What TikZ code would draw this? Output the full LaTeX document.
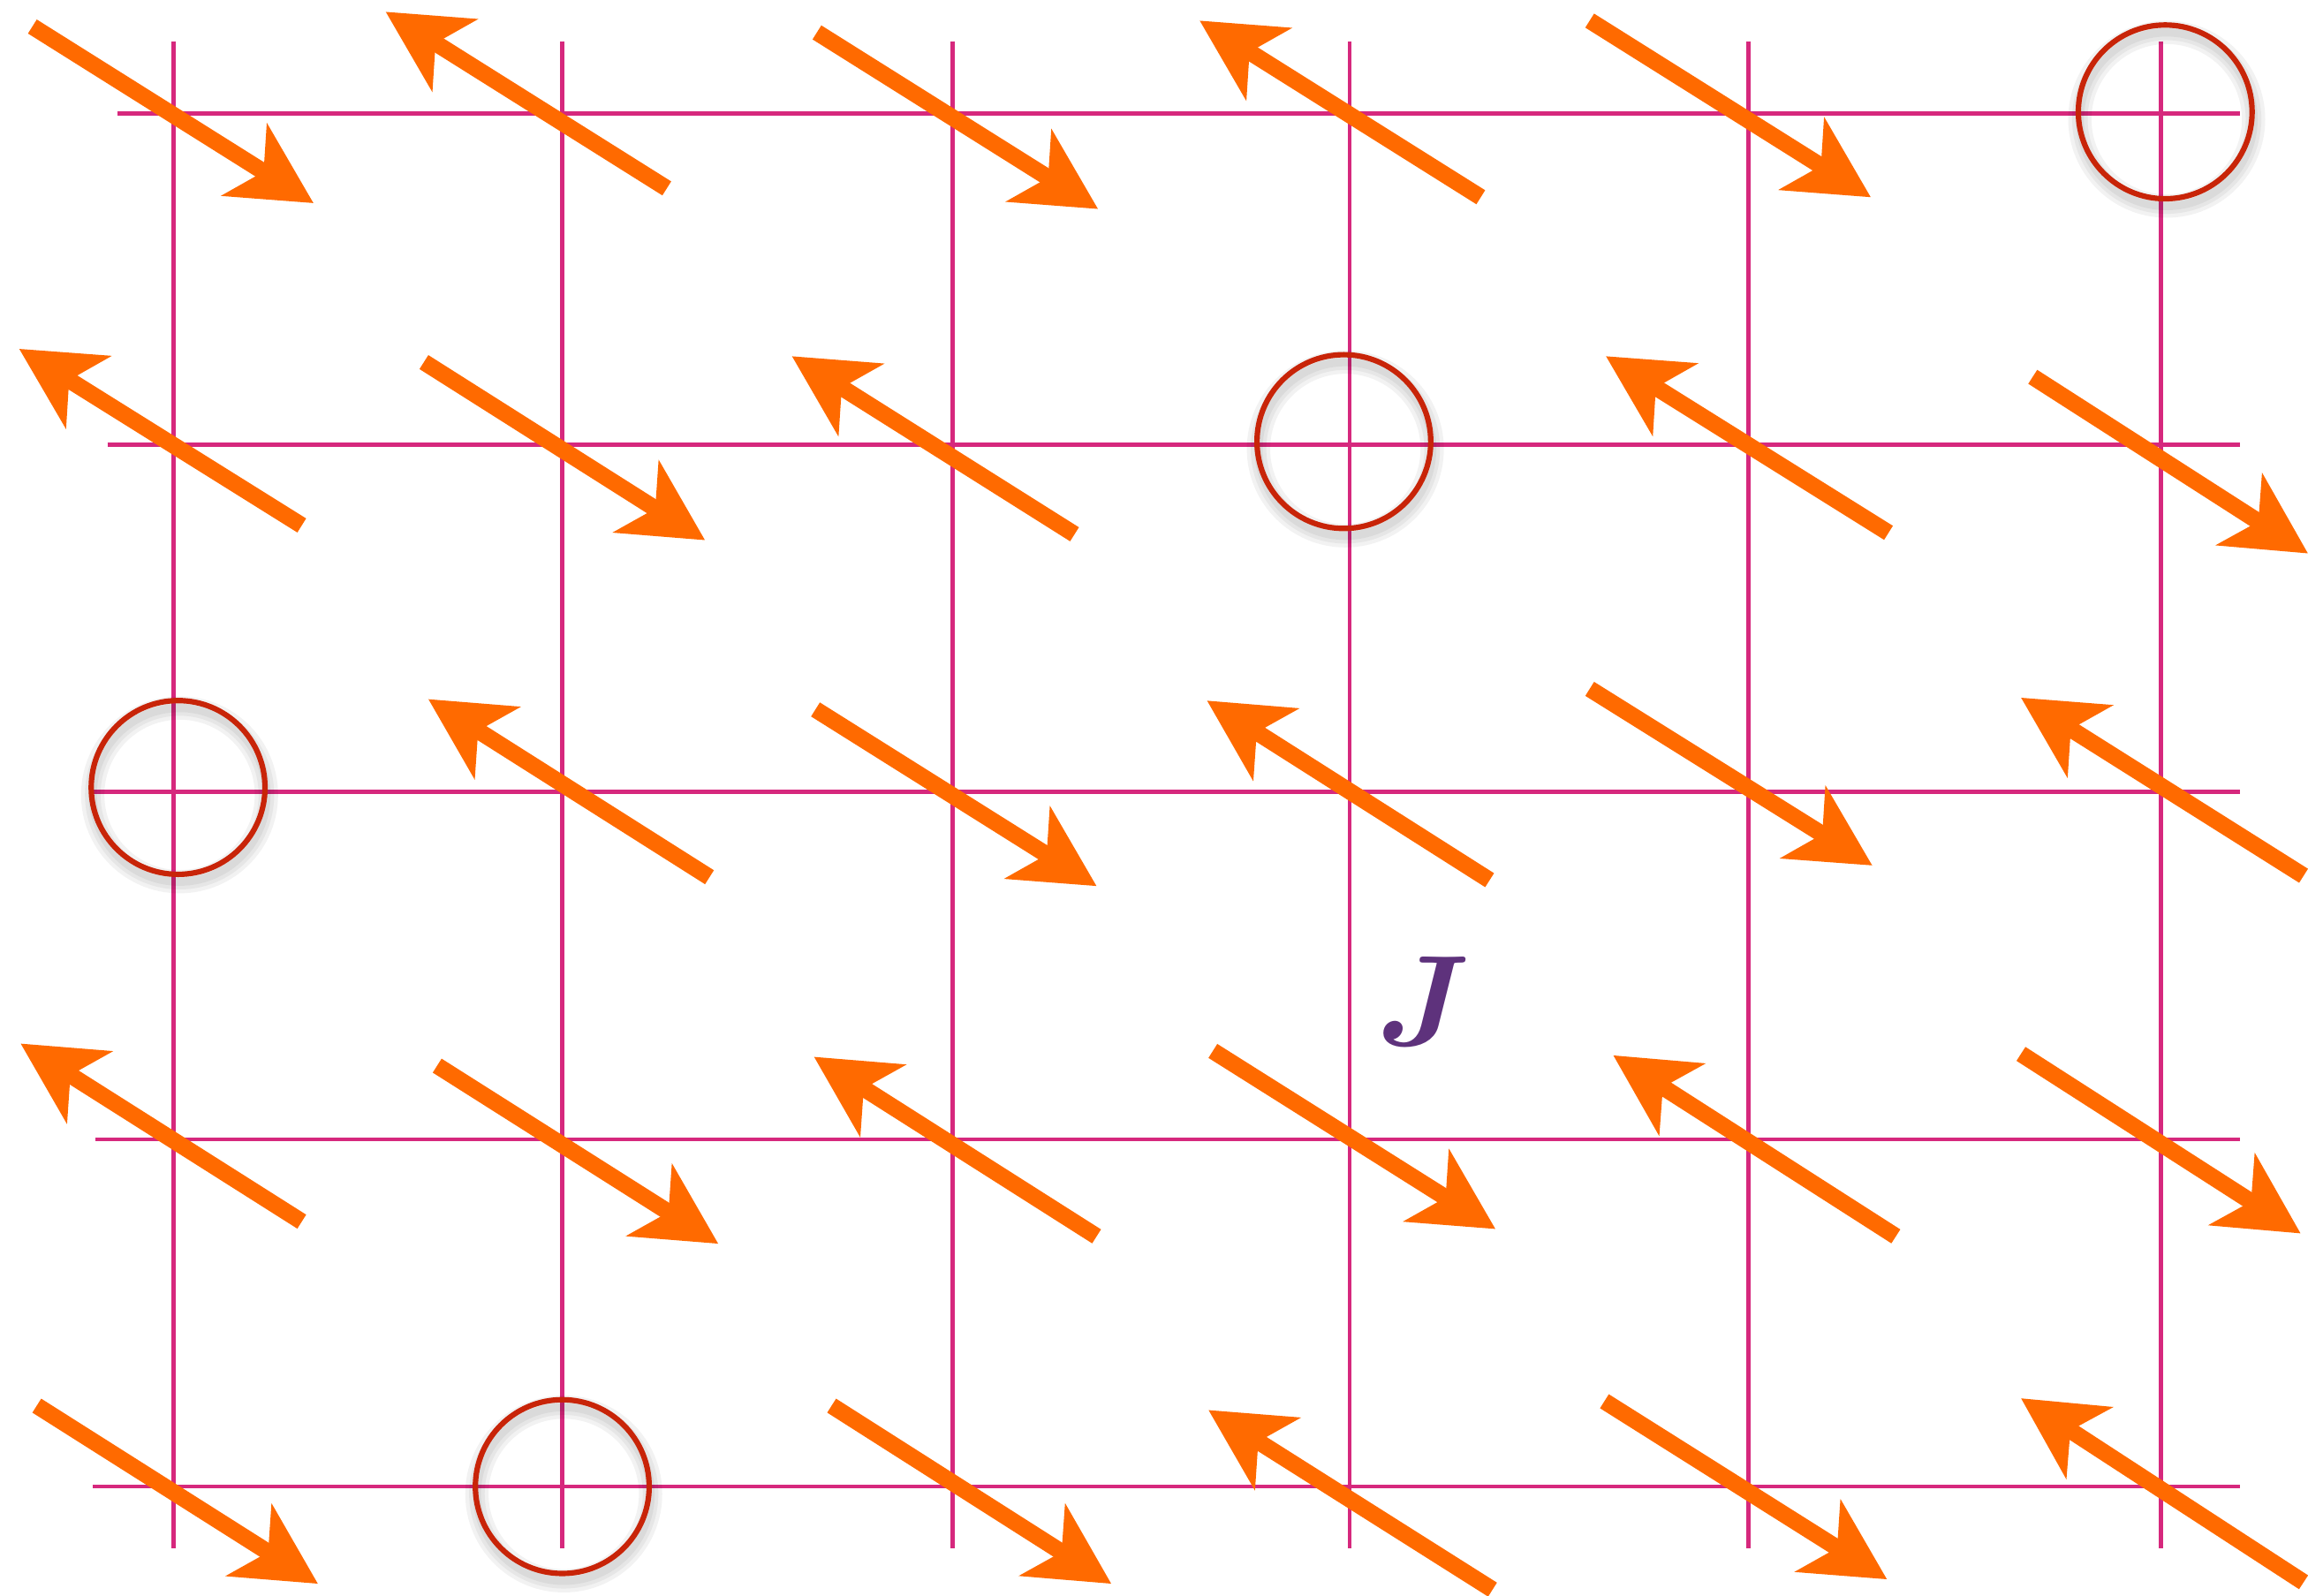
\documentclass[tikz,border=0pt]{standalone}
\usepackage{fontspec}
\usepackage{tikz}
\usetikzlibrary{arrows.meta}
\usepackage{xcolor}
\definecolor{gridpink}{RGB}{214,40,125}
\definecolor{spinorange}{RGB}{255,106,0}
\definecolor{ringred}{RGB}{200,36,8}
\definecolor{couplingpurple}{RGB}{94,50,124}
\tikzset{
  bond/.style    = {draw=gridpink, line width=0.8pt},
  spin/.style    = {draw=spinorange, fill=spinorange, line width=3.2pt,
                    -{Stealth[length=5.5mm, width=5.7mm, inset=1.5mm]}},
  vacancy/.style = {draw=ringred, line width=1.05pt, circle, inner sep=0pt,
                    minimum size=11.8mm},
  halo/.style    = {draw=black, opacity=0.05},
}

\begin{document}
\begin{tikzpicture}[x=0.01cm, y=-0.01cm]
\useasboundingbox (0,0) rectangle (1568,1084);
% lattice
\foreach \gx in {118,382,647,917,1188,1468}
  \draw[bond] (\gx,28) -- (\gx,1052);
\foreach \gy/\gs in {77/80, 302/73, 538/62, 774/65, 1010/63}
  \draw[bond] (\gs,\gy) -- (1522,\gy);
% spins, tail/tip
\foreach \xa/\ya/\xb/\yb in {
   22/18/213/138, 453/128/262/8, 555/22/746/142, 1006/134/815/14, 1080/14/1271/134,
   205/357/13/237, 288/246/479/367, 730/363/538/242, 1283/362/1091/242, 1381/256/1568/376,
   482/596/291/475, 554/482/745/602, 1012/598/820/476, 1080/468/1272/588, 1565/595/1373/474,
   205/830/14/709, 297/724/488/845, 745/840/553/718, 824/714/1016/835, 1288/840/1096/717,
   1373/716/1563/838,
   25/955/216/1076, 565/955/755/1076, 1014/1080/821/958, 1090/952/1282/1073, 1565/1075/1373/950}
  \draw[spin] (\xa,\ya) -- (\xb,\yb);
% empty sites
\foreach \cx/\cy [count=\k] in {1471/76, 913/300, 121/535, 382/1010} {
  \foreach \w in {4.5,3,1.6}
    \draw[halo, line width=\w pt] (\cx+1,\cy+5) circle[radius=59];
  \node[vacancy] (vac\k) at (\cx,\cy) {};
}
\node[text=couplingpurple, inner sep=0pt,
      font=\boldmath\fontsize{30}{30}\selectfont] (J) at (967,680) {$J$};
\end{tikzpicture}
\end{document}
